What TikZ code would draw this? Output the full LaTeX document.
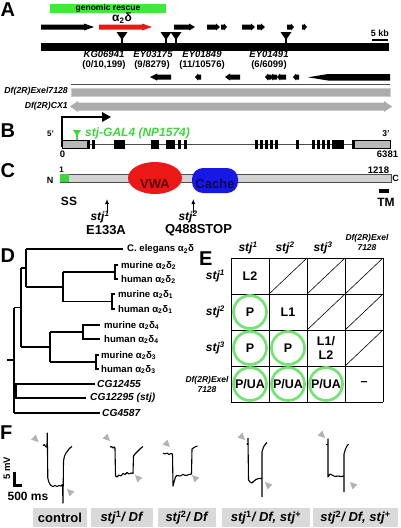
\documentclass[tikz,border=0pt]{standalone}
\usepackage{fontspec}
\setmainfont{Liberation Sans}
\usetikzlibrary{arrows.meta}
\definecolor{rescue}{RGB}{64,232,64}
\definecolor{galgreen}{RGB}{60,215,60}
\definecolor{circgreen}{RGB}{115,228,115}
\definecolor{dfgray}{RGB}{172,172,172}
\definecolor{vwared}{RGB}{236,24,24}
\definecolor{vwatext}{RGB}{95,0,0}
\definecolor{cacheblue}{RGB}{24,24,228}
\definecolor{cachetext}{RGB}{10,10,90}
\definecolor{lblgray}{RGB}{217,217,217}
\definecolor{trigray}{RGB}{178,178,178}
\newcommand\fsz[1]{\fontsize{#1}{#1}\selectfont}
\newcommand\rarr[5]{\fill (#1,#3-#5) -- (#2-#4,#3-#5) -- (#2-#4,#3-#5-1) -- (#2,#3) -- (#2-#4,#3+#5+1) -- (#2-#4,#3+#5) -- (#1,#3+#5) -- cycle;}
\newcommand\larr[5]{\fill (#2,#3-#5) -- (#1+#4,#3-#5) -- (#1+#4,#3-#5-1) -- (#1,#3) -- (#1+#4,#3+#5+1) -- (#1+#4,#3+#5) -- (#2,#3+#5) -- cycle;}
\newcommand\insm[1]{\fill (#1-5.5,32) -- (#1+5.5,32) -- (#1,40) -- cycle; \draw[line width=1.1] (#1,36) -- (#1,44);}
\newcommand\ftri[3]{\fill[trigray,shift={(#1,#2)},rotate=#3] (0,0) -- (-7,-3.5) -- (-7,3.5) -- cycle;}
\begin{document}
\begin{tikzpicture}[x=1pt,y=-1pt,
  plet/.style={font=\bfseries\fsz{20}, inner sep=0},
  tx/.style={font=\bfseries\fsz{#1}, inner sep=0},
  itx/.style={font=\bfseries\itshape\fsz{#1}, inner sep=0},
  dl/.style={font=\bfseries\fsz{9.6}, inner sep=0, anchor=west},
  cg/.style={font=\bfseries\itshape\fsz{10.2}, inner sep=0, anchor=west},
  tree/.style={line width=1.1},
  gridln/.style={line width=0.9},
  circ/.style={draw=circgreen, line width=2.7},
  trace/.style={line width=1.1, line join=round},
  lbl/.style={fill=lblgray, font=\bfseries\fsz{13}, inner sep=0, minimum height=19},
]
\useasboundingbox (0,0) rectangle (400,528);

% ---------------- Panel A ----------------
\node[plet, anchor=west] (pA) at (0.5,9.5) {A};
\fill[rescue] (50,4) rectangle (166,12.5);
\node[tx=8.5] (resc) at (108,8.3) {genomic rescue};
\node[tx=12] (a2d) at (122,18) {α\textsubscript{2}δ};

\rarr{41}{94}{27}{10}{2.5}
\begin{scope}[fill=vwared]\rarr{99}{152}{27}{10}{2.5}\end{scope}
\rarr{174}{195}{27}{6}{2.5}
\rarr{207}{220}{27}{4}{2.5}
\rarr{221}{227}{27}{3}{2.5}
\rarr{242}{255}{27}{4}{2.5}
\rarr{257}{265}{27}{4}{2.5}
\rarr{287}{294}{27}{3}{2.5}
\rarr{302}{307}{27}{3}{2.5}

\fill (41,43) rectangle (389,50.5);
\insm{122}
\insm{166}
\insm{176}
\insm{286}

\node[tx=9] (kb) at (380,33) {5 kb};
\fill (372,38.5) rectangle (388,40.5);

\node[itx=9.5] (kg) at (104,54) {KG06941};
\node[tx=9.5] (kgn) at (104,65) {(0/10,199)};
\node[itx=9.5] (ey1) at (153,54) {EY03175};
\node[tx=9.5] (ey1n) at (152,65) {(9/8279)};
\node[itx=9.5] (ey2) at (202,54) {EY01849};
\node[tx=9.5] (ey2n) at (202,65) {(11/10576)};
\node[itx=9.5] (ey3) at (269,54) {EY01491};
\node[tx=9.5] (ey3n) at (269,65) {(6/6099)};

\larr{150}{171}{77}{7}{2.5}
\larr{195}{201}{77}{3}{2.5}
\larr{225}{240}{77}{5}{2.5}
\larr{265}{271}{77}{3}{2.5}
\larr{270}{277}{77}{3}{2.5}
\larr{277}{286}{77}{3}{2.5}
\larr{293}{299}{77}{3}{2.5}
\fill (308,77.3) -- (328,74) -- (390,74) -- (390,80.5) -- (328,80.5) -- cycle;

\draw[gray!60!black, line width=0.8] (71,84.5) -- (390,84.5);
\filldraw[fill=dfgray, draw=gray!40, line width=0.6] (71,88) rectangle (390,96.5);
\fill[dfgray] (70,106.5) -- (78,101) -- (78,102.5) -- (384,102.5) -- (384,101) -- (392,106.5) -- (384,112) -- (384,110.5) -- (78,110.5) -- (78,112) -- cycle;
\node[itx=8.7, anchor=east] (dfe) at (68,91.5) {Df(2R)Exel7128};
\node[itx=8.7, anchor=east] (dfc) at (68,106.5) {Df(2R)CX1};

% ---------------- Panel B ----------------
\node[plet, anchor=west] (pB) at (0.5,130.5) {B};
\node[tx=8] (p5) at (50.5,134) {5'};
\draw[line width=1.4] (62,147) -- (62,117) -- (103,117);
\fill (102,112) -- (111,117) -- (102,122) -- cycle;
\draw[line width=0.9, gray!60!black] (62,144) -- (390,144);
\filldraw[fill=gray!55, draw=black, line width=0.6] (62,140) rectangle (88,148);
\filldraw[fill=gray!55, draw=black, line width=0.6] (354,140) rectangle (390,148);
\foreach \a/\b in {87/89.5, 92/94.5, 114/125, 151/159, 166/175, 178/181, 184/187,
  255/258, 260/263, 265/268, 270/273, 275/278, 296/298.5, 312/315, 317/320, 322/325, 327/330, 332/344, 351.5/353.5}
  \fill (\a,139.5) rectangle (\b,148.5);
\fill[galgreen] (73,130) -- (81,130) -- (77,136) -- cycle;
\draw[galgreen, line width=1.2] (77,133) -- (77,140);
\node[itx=12, text=galgreen, anchor=west] (gal) at (85,133) {stj-GAL4 (NP1574)};
\node[tx=8.5] (p3) at (386,134) {3'};
\node[tx=9.5] (b0) at (62.5,154) {0};
\node[tx=9.5] (b6381) at (387.5,154) {6381};

% ---------------- Panel C ----------------
\node[plet, anchor=west] (pC) at (0.5,170.5) {C};
\filldraw[fill=gray!35, draw=black!70, line width=0.7] (60,174) rectangle (391,182);
\fill[galgreen] (60.4,174.4) rectangle (69,181.6);
\node[tx=9] (cN) at (50,180) {N};
\node[tx=8] (c1) at (61.5,170) {1};
\node[tx=9.5] (c1218) at (378.5,170) {1218};
\node[tx=9] (cC) at (395.5,178) {C};
\fill[vwared] (155,178) ellipse [x radius=27, y radius=16];
\node[tx=13, text=vwatext] (vwa) at (155,184) {VWA};
\fill[cacheblue, rounded corners=11] (192,168) rectangle (238,193);
\node[tx=13, text=cachetext] (cache) at (215,184) {Cache};
\fill (379,189) rectangle (389,192.5);
\node[tx=12] (ctm) at (386,202) {TM};
\node[tx=12] (css) at (69,201) {SS};
\coordinate (m1t) at (107,199);
\coordinate (m1b) at (107,213);
\draw[-{Latex[length=5,width=4]}, line width=0.9] (m1b) -- (m1t);
\node[itx=12] (s1) at (100,217) {stj\textsuperscript{1}};
\node[tx=13] (e133) at (106,230.5) {E133A};
\coordinate (m2t) at (193.3,199);
\coordinate (m2b) at (193.3,213);
\draw[-{Latex[length=5,width=4]}, line width=0.9] (m2b) -- (m2t);
\node[itx=12] (s2) at (188,217) {stj\textsuperscript{2}};
\node[tx=13] (q488) at (198.5,230.5) {Q488STOP};

% ---------------- Panel D ----------------
\node[plet, anchor=west] (pD) at (0.5,256) {D};
\draw[tree] (7,360) -- (14,360);
\draw[tree] (14,307.5) -- (14,413);
\draw[tree] (14,307.5) -- (21,307.5);
\draw[tree] (21,268) -- (21,347);
\draw[tree] (21,268) -- (26,268);
\draw[tree] (26,249) -- (26,287);
\draw[tree] (26,249) -- (123,249);
\draw[tree] (26,287) -- (63,287);
\draw[tree] (63,272) -- (63,301.5);
\draw[tree] (63,272) -- (115,272);
\draw[tree] (118,265) -- (115,265) -- (115,279) -- (118,279);
\draw[tree] (63,301.5) -- (112,301.5);
\draw[tree] (115,294) -- (112,294) -- (112,309) -- (115,309);
\draw[tree] (21,347) -- (50,347);
\draw[tree] (50,332) -- (50,362);
\draw[tree] (50,332) -- (83,332);
\draw[tree] (100,325) -- (83,325) -- (83,339) -- (100,339);
\draw[tree] (50,362) -- (96,362);
\draw[tree] (99,355) -- (96,355) -- (96,369) -- (99,369);
\draw[tree] (14,391) -- (16,391);
\draw[tree] (95,384) -- (16,384) -- (16,398) -- (86,398);
\draw[tree] (14,413) -- (100,413);
\node[dl] (d1) at (127,249.5) {C. elegans α\textsubscript{2}δ};
\node[dl] (d2) at (121,265.5) {murine α\textsubscript{2}δ\textsubscript{2}};
\node[dl] (d3) at (121,279.5) {human α\textsubscript{2}δ\textsubscript{2}};
\node[dl] (d4) at (118,294.5) {murine α\textsubscript{2}δ\textsubscript{1}};
\node[dl] (d5) at (118,309.5) {human α\textsubscript{2}δ\textsubscript{1}};
\node[dl] (d6) at (104,325.5) {murine α\textsubscript{2}δ\textsubscript{4}};
\node[dl] (d7) at (104,339.5) {human α\textsubscript{2}δ\textsubscript{4}};
\node[dl] (d8) at (101,355.5) {murine α\textsubscript{2}δ\textsubscript{3}};
\node[dl] (d9) at (101,369.5) {human α\textsubscript{2}δ\textsubscript{3}};
\node[cg] (d10) at (97,384) {CG12455};
\node[cg] (d11) at (90,398) {CG12295 (stj)};
\node[cg] (d12) at (102,413) {CG4587};

% ---------------- Panel E ----------------
\node[plet, anchor=west] (pE) at (199,258.5) {E};
\foreach \x in {231,269,307,345,383} \draw[gridln] (\x,258) -- (\x,402);
\foreach \y in {258,294,330,366,402} \draw[gridln] (231,\y) -- (383,\y);
\draw[line width=0.6] (269,294) -- (307,258);
\draw[line width=0.6] (307,294) -- (345,258);
\draw[line width=0.6] (345,294) -- (383,258);
\draw[line width=0.6] (307,330) -- (345,294);
\draw[line width=0.6] (345,330) -- (383,294);
\draw[line width=0.6] (345,366) -- (383,330);
\draw[circ] (250,312) circle (16.5);
\draw[circ] (250,348) circle (16.5);
\draw[circ] (288,348) circle (16.5);
\draw[circ] (250,384) circle (16.5);
\draw[circ] (288,384) circle (16.5);
\draw[circ] (326,384) circle (16.5);
\node[tx=12.5] (e11) at (250,276) {L2};
\node[tx=12.5] (e21) at (250,312) {P};
\node[tx=12.5] (e22) at (288,312) {L1};
\node[tx=12.5] (e31) at (250,348) {P};
\node[tx=12.5] (e32) at (288,348) {P};
\node[inner sep=0, align=center, font=\bfseries\fontsize{12.5}{14}\selectfont] (e33) at (326,348) {L1/\\L2};
\node[tx=12.5] (e41) at (250,384) {P/UA};
\node[tx=12.5] (e42) at (288,384) {P/UA};
\node[tx=12.5] (e43) at (326,384) {P/UA};
\node[tx=12.5] (e44) at (364,384) {–};
\node[itx=12] (hc1) at (248,248) {stj\textsuperscript{1}};
\node[itx=12] (hc2) at (285,248) {stj\textsuperscript{2}};
\node[itx=12] (hc3) at (323,248) {stj\textsuperscript{3}};
\node[inner sep=0, align=center, font=\bfseries\itshape\fontsize{8.5}{10}\selectfont] (hc4) at (367,242) {Df(2R)Exel\\7128};
\node[itx=12, anchor=east] (hr1) at (225,276) {stj\textsuperscript{1}};
\node[itx=12, anchor=east] (hr2) at (225,312) {stj\textsuperscript{2}};
\node[itx=12, anchor=east] (hr3) at (225,348) {stj\textsuperscript{3}};
\node[inner sep=0, align=center, font=\bfseries\itshape\fontsize{8.5}{10}\selectfont] (hr4) at (207,384) {Df(2R)Exel\\7128};

% ---------------- Panel F ----------------
\node[plet, anchor=west] (pF) at (0,432.5) {F};
\node[tx=9.5, rotate=90] (smv) at (7,468.5) {5 mV};
\draw[line width=3.2] (14.6,472) -- (14.6,485.4) -- (22,485.4);
\node[tx=12] (sms) at (28,496) {500 ms};

\draw[trace] (43,445.5) -- (44.5,444.5) -- (45.5,446.5) -- (46.5,447) -- (47,445) -- (47.3,433) -- (47.8,478) -- (48.5,481) -- (49.5,483.5) -- (51,485.5) -- (53,486.5) -- (55,485.5) -- (57,486.5) -- (59,485.5) -- (61,486) -- (62.5,484.5) -- (63,503) -- (63.5,461) -- (64.5,456) -- (66,453) -- (67.5,451) -- (69,449) -- (70.5,447.5) -- (72,446.5);
\ftri{38.5}{442}{-45}
\ftri{67}{489}{135}

\draw[trace] (110,447) -- (111.5,446.5) -- (113,448) -- (114.5,447) -- (115,448) -- (115.5,476) -- (117,477) -- (119,475) -- (121,476) -- (123,473.5) -- (125,474.5) -- (127,472.5) -- (129,474) -- (131,473) -- (133,473.5) -- (133.5,456) -- (135,454) -- (137,452) -- (139,450) -- (141,448) -- (143,446.5);
\ftri{110}{441}{-45}
\ftri{135}{475}{135}

\draw[trace] (163,453) -- (165,454) -- (167,453) -- (169,454.5) -- (171,453.5) -- (172.5,454) -- (173,486) -- (174,482) -- (175.5,477) -- (177,475.5) -- (180,476) -- (183,474.5) -- (186,475.5) -- (189,474.5) -- (191.5,474) -- (192,449) -- (194,447.5) -- (196,446.5) -- (197.5,446);
\ftri{170}{447}{-45}
\ftri{192}{475}{135}

\fill (247.5,444) circle (1.2);
\draw[trace] (248,438) -- (248.5,480) -- (250,482) -- (252,483) -- (254,481) -- (256,479.5) -- (258.5,478.5) -- (261,478.5) -- (262,478);
\draw[trace] (262,497) -- (262,452) -- (263.5,447) -- (265.5,444) -- (267,442.5);
\ftri{245}{440}{-45}
\ftri{265}{482}{135}

\draw[trace] (325.5,444.5) -- (328,444.5);
\draw[trace] (328,438.5) -- (328,477) -- (330,474) -- (332,475) -- (335,476.5) -- (338,476) -- (341,476.5) -- (344,476);
\draw[trace] (344,492) -- (344,454) -- (345.5,449) -- (347,446) -- (348.5,444);
\ftri{325}{438}{-45}
\ftri{350}{482}{135}

\node[lbl, minimum width=54] (fc) at (60,517.5) {control};
\node[lbl, minimum width=62] (f1) at (122,517.5) {\textit{stj}\textsuperscript{1}\textit{/ Df}};
\node[lbl, minimum width=58] (f2) at (187,517.5) {\textit{stj}\textsuperscript{2}\textit{/ Df}};
\node[lbl, minimum width=88] (f3) at (266,517.5) {\textit{stj}\textsuperscript{1}\textit{/ Df, stj}\textsuperscript{+}};
\node[lbl, minimum width=85] (f4) at (355.5,517.5) {\textit{stj}\textsuperscript{2}\textit{/ Df, stj}\textsuperscript{+}};
\end{tikzpicture}
\end{document}
